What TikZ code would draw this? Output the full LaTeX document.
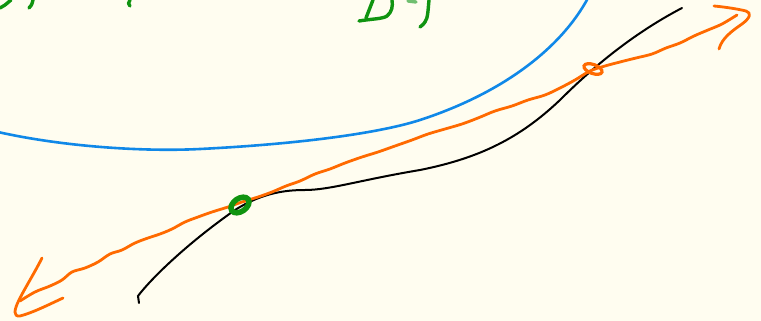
\documentclass[tikz,border=0pt]{standalone}
\usetikzlibrary{calc,shapes.geometric}
\definecolor{bg}{RGB}{255,253,240}
\definecolor{pen}{RGB}{255,106,0}
\definecolor{grn}{RGB}{16,148,16}
\definecolor{blu}{RGB}{16,136,232}
\tikzset{
  orangestroke/.style={draw=pen,line width=2.8pt,line cap=round,line join=round},
  greenstroke/.style={draw=grn,line width=3.4pt,line cap=round,line join=round},
  bluestroke/.style={draw=blu,line width=2.6pt,line cap=round},
  blackstroke/.style={draw=black,line width=2pt,line cap=round},
}
\begin{document}
\begin{tikzpicture}[x=1pt,y=-1pt]
\fill[bg] (0,0) rectangle (761,321);
\useasboundingbox (0,0) rectangle (761,321);
% green handwriting fragments at top
\draw[greenstroke] (0,8) -- (5,5) -- (11,0);
\draw[greenstroke] (33,0) .. controls (32,4) and (31,7) .. (29,8);
\draw[greenstroke] (130,0) .. controls (128,2) and (128,5) .. (130,6);
\draw[greenstroke] (366,18) -- (373,0);
\draw[greenstroke] (359,21) .. controls (370,19) and (383,19) .. (387,16) .. controls (392,12) and (393,6) .. (392,0);
\draw[greenstroke] (429,0) .. controls (428,10) and (428,18) .. (425,22) .. controls (423,25) and (421,26) .. (420,27);
\draw[greenstroke,draw=grn!60] (408,1) -- (416,2);
% blue curve
\draw[bluestroke] (-2,132) .. controls (60,146) and (140,152) .. (200,149)
  .. controls (300,144) and (380,133) .. (420,120)
  .. controls (500,94) and (560,50) .. (588,-2);
% black curve
\coordinate (k0) at (139,303);
\coordinate (k1) at (682,8);
\draw[blackstroke] (k0) -- (138,296) .. controls (150,280) and (185,245) .. (235,210)
  .. controls (262,193) and (285,190) .. (305,190)
  .. controls (330,190) and (360,180) .. (420,170)
  .. controls (480,158) and (520,138) .. (560,100)
  .. controls (600,60) and (640,30) .. (k1);
% orange wavy arrow shaft
\coordinate (aL) at (20,301);
\coordinate (aR) at (737,15);
\draw[orangestroke] plot[smooth,tension=0.6] coordinates {
 (aL) (35,292) (50,286) (62,280) (72,272) (85,268) (98,262) (110,254) (122,250)
 (135,243) (148,238) (160,234) (172,229) (185,222) (198,217) (212,212) (228,207)
 (242,202) (258,197) (272,192) (286,186) (300,181) (315,174) (330,169) (345,163)
 (362,157) (378,152) (395,146) (412,140) (428,134) (445,129) (462,124) (478,118)
 (495,111) (512,106) (528,100) (545,95) (560,88) (575,80) (590,71) (605,66)
 (620,62) (636,58) (652,54) (666,48) (680,43) (694,36) (708,30) (722,24) (aR)};
% left arrowhead
\draw[orangestroke] (42,258) .. controls (35,272) and (25,288) .. (19,300)
  .. controls (14,310) and (13,317) .. (20,316)
  .. controls (32,313) and (48,305) .. (63,298);
% right arrowhead
\draw[orangestroke] (714,6) .. controls (725,7) and (738,9) .. (746,11)
  .. controls (752,13) and (750,18) .. (742,24)
  .. controls (732,31) and (722,38) .. (719,49);
% circles at intersections
\node[draw=grn,line width=5.5pt,ellipse,minimum width=20pt,minimum height=13pt,inner sep=0pt,rotate=35] (gc) at (240,205) {};
\node[draw=pen,line width=3.2pt,ellipse,minimum width=19pt,minimum height=9pt,inner sep=0pt,rotate=-20] (oc) at (593,69) {};
\end{tikzpicture}
\end{document}
